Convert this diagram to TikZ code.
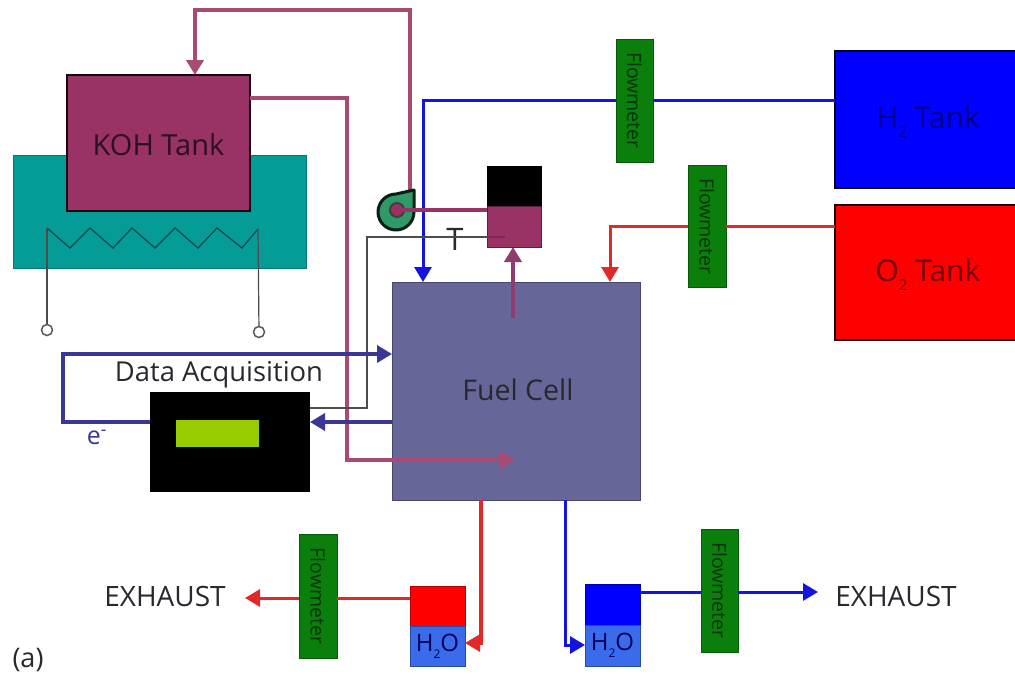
\documentclass[tikz,border=0pt]{standalone}
\usepackage{fontspec}
\setmainfont{Open Sans}
\usetikzlibrary{arrows.meta,calc}
\definecolor{teal1}{HTML}{059C98}
\definecolor{koh}{HTML}{993366}
\definecolor{pipemag}{HTML}{A84A72}
\definecolor{fcell}{HTML}{666699}
\definecolor{indigo1}{HTML}{3A3796}
\definecolor{flowg}{HTML}{0B7F0B}
\definecolor{pumpg}{HTML}{2F9A68}
\definecolor{lime1}{HTML}{99CC00}
\definecolor{water}{HTML}{3A6BEA}
\definecolor{redpipe}{HTML}{E02A2A}
\definecolor{bluepipe}{HTML}{1414E0}
\definecolor{txt}{HTML}{28282E}
\newcommand{\tinysub}[1]{\raisebox{-.3em}{\scalebox{.5}{#1}}}
\tikzset{
  box/.style={rectangle,inner sep=0pt,outer sep=0pt,minimum width=#1},
  boxh/.style={minimum height=#1},
  flowmeter/.style={rectangle,inner sep=0pt,outer sep=0pt,
    fill=flowg,draw=flowg!70!black,line width=1pt,text=flowg!40!black,font=\fontsize{19.5}{20}\selectfont},
  tip/.style={-{Triangle[length=15pt,width=17pt]}},
  lab/.style={text=txt,inner sep=0pt},
  wire/.style={draw=black!70,line width=1.2pt},
  term/.style={circle,draw=black!65,fill=white,line width=1.5pt,minimum size=11pt,inner sep=0pt}
}
\begin{document}
\begin{tikzpicture}[x=1pt,y=-1pt]
\useasboundingbox (0,0) rectangle (1015,675);
\clip (0,0) rectangle (1015,675);
% heater bath
\node[box=293pt,boxh=113pt,fill=teal1,draw=teal1!75!black,line width=1pt] (bath) at (159.5,211.5) {};
\node[box=183pt,boxh=136pt,fill=koh,draw=black!85!koh,line width=2.5pt] (kohtank) at (158.5,143) {};
\node[lab,text=koh!30!black,font=\fontsize{29}{30}\selectfont] (kohlabel) at (158.5,145) {KOH Tank};
% heater
\node[term] (t1) at (47,330) {};
\node[term] (t2) at (259,332) {};
\draw[wire,draw=teal1!45!black,line join=miter] (47,228) -- (70,248) -- (90,228) -- (113,248) -- (132,228) -- (155,248) -- (175,228) -- (198,248) -- (217,228) -- (242,248) -- (258,229);
\draw[wire] (t1) -- (47,228);
\draw[wire] (t2) -- (258,229);
% tanks
\node[box=184pt,boxh=137pt,fill=blue,draw=black!85!blue,line width=2.5pt] (h2) at (927,119.5) {};
\node[lab,text=blue!55!black,font=\fontsize{30}{30}\selectfont] (h2label) at (928,122) {H\tinysub{2} Tank};
\node[box=184pt,boxh=135pt,fill=red,draw=black!90!red,line width=2.5pt] (o2) at (927,272.5) {};
\node[lab,text=red!45!black,font=\fontsize{30}{30}\selectfont] (o2label) at (928,275) {O\tinysub{2} Tank};
% fuel cell
\node[box=248pt,boxh=218pt,fill=fcell,draw=fcell!70!black,line width=1pt] (fc) at (516,391) {};
\node[lab,font=\fontsize{28.5}{30}\selectfont] (fclabel) at (518,390) {Fuel Cell};
% reservoir
\node[box=54pt,boxh=40pt,fill=black,draw=black,line width=1pt] (restop) at (514,186) {};
\node[box=54pt,boxh=41pt,fill=koh,draw=koh!60!black,line width=1pt] (reslow) at (514,226.5) {};
% flowmeters
\node[flowmeter,rotate=-90,minimum width=123pt,minimum height=37pt] (fm1) at (634.5,100.5) {Flowmeter};
\node[flowmeter,rotate=-90,minimum width=122pt,minimum height=38pt] (fm2) at (707,226.5) {Flowmeter};
\node[flowmeter,rotate=-90,minimum width=124pt,minimum height=38pt] (fm3) at (318,596) {Flowmeter};
\node[flowmeter,rotate=-90,minimum width=123pt,minimum height=37pt] (fm4) at (719.5,590.5) {Flowmeter};
% DAQ
\node[box=160pt,boxh=100pt,fill=black] (daq) at (230,442) {};
\node[box=83pt,boxh=27pt,fill=lime1] (screen) at (217.5,433.5) {};
\node[lab,font=\fontsize{27.4}{28}\selectfont] (daqlabel) at (219,374.5) {Data Acquisition};
% bottom vessels
\node[box=55pt,boxh=40pt,fill=red,draw=red!70!black,line width=1pt] (rtop) at (437.5,606) {};
\node[box=55pt,boxh=40pt,fill=water,draw=water!70!black,line width=1pt,text=blue!35!black,font=\fontsize{24}{24}\selectfont] (rwat) at (437.5,646) {H\tinysub{2}O};
\node[box=55pt,boxh=41pt,fill=blue,draw=blue!70!black,line width=1pt] (btop) at (612.5,604.5) {};
\node[box=55pt,boxh=41pt,fill=water,draw=water!70!black,line width=1pt,text=blue!35!black,font=\fontsize{24}{24}\selectfont] (bwat) at (612.5,645.5) {H\tinysub{2}O};
% labels
\node[lab,font=\fontsize{28}{30}\selectfont] (ex1) at (165,596) {EXHAUST};
\node[lab,font=\fontsize{28}{30}\selectfont] (ex2) at (896,596) {EXHAUST};
\node[lab,font=\fontsize{27}{28}\selectfont] (alabel) at (28,660) {(a)};
\node[lab,text=indigo1,font=\fontsize{25}{26}\selectfont] (elabel) at (97,437.5) {e\textsuperscript{-}};
\node[lab,font=\fontsize{31}{31}\selectfont] (tlabel) at (455,239) {T};
% routing points
\coordinate (pumpout) at (410,192);
\coordinate (topc) at (195,10);
\coordinate (h2c) at (423,100.5);
\coordinate (o2c) at (610,226.5);
\coordinate (kohc) at (347,98);
\coordinate (kohd) at (515,460);
\coordinate (tend) at (505,237);
\coordinate (td) at (367,408);
\coordinate (inda) at (63,422);
\coordinate (indb) at (63,354);
\coordinate (fcup) at (513,318);
\coordinate (fcred) at (481,643);
\coordinate (fcblue) at (565,645);
\coordinate (ex1tip) at (245,598);
\coordinate (ex2tip) at (818,592);
% KOH loop
\draw[pipemag,line width=4pt,tip] (pumpout) |- (topc) -- (topc |- kohtank.north);
\draw[pipemag,line width=3.2pt,tip] (kohtank.east |- kohc) -| (kohd -| kohc) -- (kohd);
% hydrogen
\draw[bluepipe,line width=3pt] (h2.west |- h2c) -- (fm1.north |- h2c);
\draw[bluepipe,line width=3pt,tip] (fm1.south |- h2c) -- (h2c) -- (h2c |- fc.north);
% oxygen
\draw[redpipe,line width=3pt] (o2.west |- o2c) -- (fm2.north |- o2c);
\draw[redpipe,line width=3pt,tip] (fm2.south |- o2c) -- (o2c) -- (o2c |- fc.north);
% pump
\draw[black!80!pumpg,fill=pumpg,line width=3pt,line join=round] (414,190) -- (414,212) arc[start angle=0,end angle=270,radius=18] -- cycle;
\node[circle,fill=koh,draw=black!75,line width=2pt,minimum size=14pt,inner sep=0pt] (pump) at (397,210) {};
\draw[koh,line width=3.5pt] (pump.center) -- (pump.center -| reslow.west);
% temperature wire
\draw[wire] (tend) -| (td) -- (td -| daq.east);
\draw[koh!80!black,line width=1.5pt] (tend) -- (reslow.west |- tend);
% fuel cell to reservoir
\draw[koh!80!fcell,line width=4pt,tip] (fcup) -- (fcup |- reslow.south);
% electrons
\draw[indigo1,line width=3.5pt,tip] (daq.west |- inda) -- (inda) -- (indb) -- (indb -| fc.west);
\draw[indigo1,line width=3.5pt,tip] (fc.west |- inda) -- (inda -| daq.east);
% products
\draw[redpipe,line width=3.2pt,tip] (fc.south -| fcred) -- (fcred) -- (fcred -| rwat.east);
\draw[bluepipe,line width=3pt,tip] (fc.south -| fcblue) -- (fcblue) -- (fcblue -| bwat.west);
\draw[redpipe,line width=3pt] (rtop.west |- ex1tip) -- (fm3.north |- ex1tip);
\draw[redpipe,line width=3pt,tip] (fm3.south |- ex1tip) -- (ex1tip);
\draw[bluepipe,line width=3pt] (btop.east |- ex2tip) -- (fm4.south |- ex2tip);
\draw[bluepipe,line width=3pt,tip] (fm4.north |- ex2tip) -- (ex2tip);
\end{tikzpicture}
\end{document}
